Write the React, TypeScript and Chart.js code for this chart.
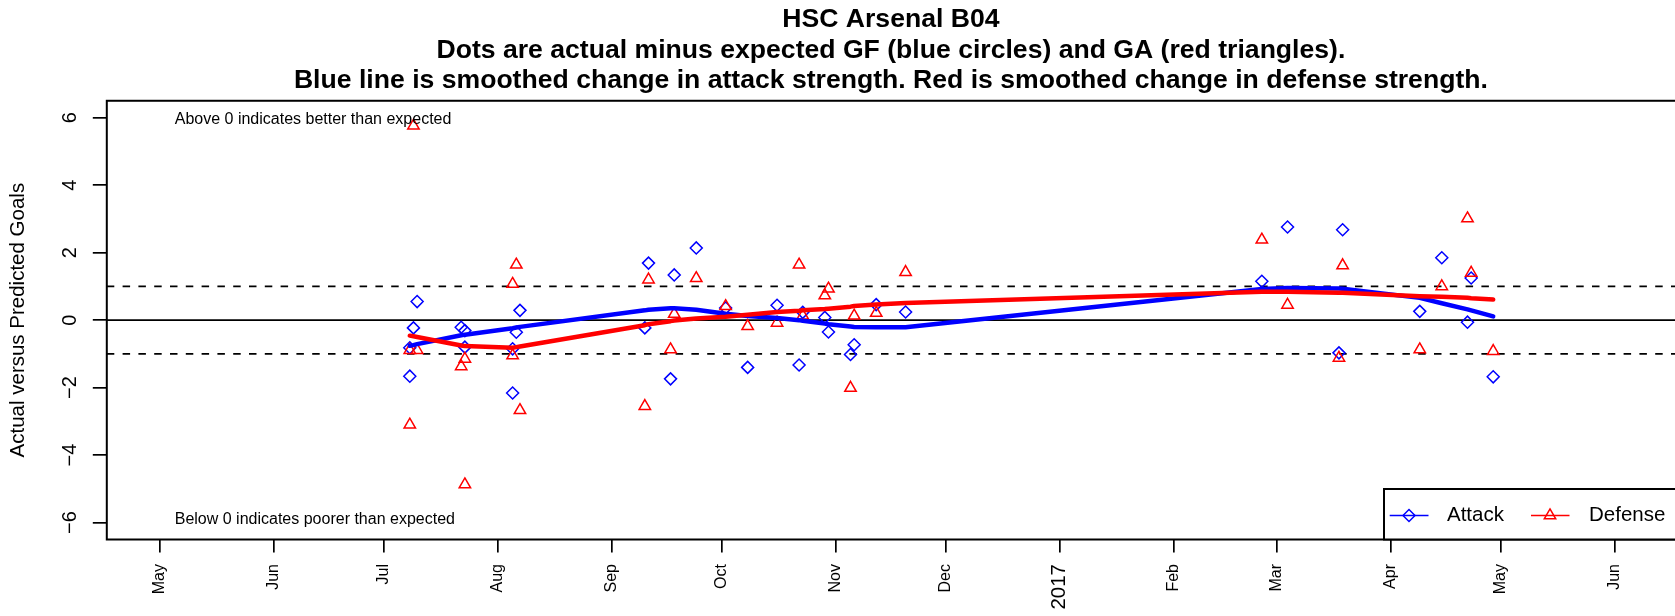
import { useEffect, useRef } from 'react';
import { Chart, registerables } from 'chart.js';

Chart.register(...registerables);

const FONT = '"Liberation Sans", Arial, Helvetica, sans-serif';

const TITLE_LINES = [
  'HSC Arsenal B04',
  'Dots are actual minus expected GF (blue circles) and GA (red triangles).',
  'Blue line is smoothed change in attack strength. Red is smoothed change in defense strength.',
];
const Y_TITLE = 'Actual versus Predicted Goals';

// one entry per match
const MATCH_DATES = [
  '2016-07-08', '2016-07-08', '2016-07-09', '2016-07-10', '2016-07-22', '2016-07-23',
  '2016-07-23', '2016-08-05', '2016-08-05', '2016-08-06', '2016-08-07', '2016-09-10',
  '2016-09-11', '2016-09-17', '2016-09-18', '2016-09-24', '2016-10-02', '2016-10-08',
  '2016-10-16', '2016-10-22', '2016-10-23', '2016-10-29', '2016-10-30', '2016-11-05',
  '2016-11-06', '2016-11-12', '2016-11-20', '2017-02-25', '2017-03-04', '2017-03-18',
  '2017-03-19', '2017-04-09', '2017-04-15', '2017-04-22', '2017-04-23', '2017-04-29',
];
const ATTACK_DIFF = [
  -0.82, -1.66, -0.23, 0.55, -0.21, -0.31,
  -0.80, -0.85, -2.16, -0.36, 0.29, -0.23,
  1.69, -1.74, 1.34, 2.14, 0.36, -1.40,
  0.44, -1.33, 0.23, 0.08, -0.35, -1.02,
  -0.73, 0.46, 0.24, 1.15, 2.76, -0.97,
  2.68, 0.26, 1.85, -0.06, 1.25, -1.68,
];
const DEFENSE_DIFF = [
  -0.89, -3.10, 5.76, -0.89, -1.37, -1.15,
  -4.87, 1.07, -1.05, 1.64, -2.67, -2.55,
  1.20, -0.87, 0.18, 1.24, 0.41, -0.18,
  -0.08, 1.64, 0.13, 0.73, 0.93, -2.01,
  0.13, 0.21, 1.42, 2.38, 0.45, -1.12,
  1.62, -0.87, 1.00, 3.01, 1.40, -0.92,
];

// smoothed strength changes, evaluated at the match dates
const SMOOTH_DATES = [
  '2016-07-08', '2016-07-09', '2016-07-10', '2016-07-22', '2016-07-23', '2016-08-05',
  '2016-08-06', '2016-08-07', '2016-09-10', '2016-09-11', '2016-09-17', '2016-09-18',
  '2016-09-24', '2016-10-02', '2016-10-08', '2016-10-16', '2016-10-22', '2016-10-23',
  '2016-10-29', '2016-10-30', '2016-11-05', '2016-11-06', '2016-11-12', '2016-11-20',
  '2017-02-25', '2017-03-04', '2017-03-18', '2017-03-19', '2017-04-09', '2017-04-15',
  '2017-04-22', '2017-04-23', '2017-04-29',
];
const ATTACK_SMOOTH = [
  -0.76, -0.74, -0.71, -0.45, -0.43, -0.24,
  -0.22, -0.20, 0.29, 0.31, 0.35, 0.35,
  0.31, 0.19, 0.12, 0.06, 0.00, -0.02,
  -0.10, -0.12, -0.19, -0.20, -0.21, -0.21,
  0.92, 0.95, 0.94, 0.93, 0.66, 0.50,
  0.32, 0.29, 0.11,
];
const DEFENSE_SMOOTH = [
  -0.46, -0.48, -0.50, -0.75, -0.77, -0.82,
  -0.80, -0.78, -0.15, -0.12, -0.03, -0.01,
  0.05, 0.10, 0.16, 0.24, 0.28, 0.29,
  0.33, 0.34, 0.40, 0.42, 0.46, 0.51,
  0.84, 0.84, 0.81, 0.81, 0.71, 0.69,
  0.66, 0.65, 0.61,
];

const X_TICK_DATES = [
  '2016-05-01', '2016-06-01', '2016-07-01', '2016-08-01', '2016-09-01', '2016-10-01', '2016-11-01',
  '2016-12-01', '2017-01-01', '2017-02-01', '2017-03-01', '2017-04-01', '2017-05-01', '2017-06-01',
];
const X_TICK_LABELS = ['May', 'Jun', 'Jul', 'Aug', 'Sep', 'Oct', 'Nov', 'Dec', '2017', 'Feb', 'Mar', 'Apr', 'May', 'Jun'];
const X_RANGE = ['2016-04-16T12:00:00Z', '2017-06-17T12:00:00Z'];
const Y_TICKS = [-6, -4, -2, 0, 2, 4, 6];
const Y_RANGE = [-6.5, 6.5];
const REF_LINES = [0, 1, -1];

const NOTE_TEXTS = ['Above 0 indicates better than expected', 'Below 0 indicates poorer than expected'];
const NOTE_X = '2016-05-05';
const NOTE_Y = [5.95, -5.9];
const LEGEND_LABELS = ['Attack', 'Defense'];

const BLUE = '#0000FF';
const RED = '#FF0000';
const DIAMOND_R = 6;
const TRIANGLE_R = 6.6;

const toMs = (d: string) => Date.parse(d);
const pts = (dates: string[], vals: number[]) => dates.map((d, i) => ({ x: toMs(d), y: vals[i] }));

function drawDiamond(ctx: CanvasRenderingContext2D, x: number, y: number, r: number) {
  ctx.beginPath();
  ctx.moveTo(x - r, y);
  ctx.lineTo(x, y - r);
  ctx.lineTo(x + r, y);
  ctx.lineTo(x, y + r);
  ctx.closePath();
  ctx.stroke();
}
function drawTriangle(ctx: CanvasRenderingContext2D, x: number, y: number, r: number) {
  ctx.beginPath();
  ctx.moveTo(x, y - r);
  ctx.lineTo(x + r * 0.866, y + r / 2);
  ctx.lineTo(x - r * 0.866, y + r / 2);
  ctx.closePath();
  ctx.stroke();
}

const framePlugin = {
  id: 'frame',
  beforeDatasetsDraw(chart: any) {
    const { ctx, chartArea: a, scales } = chart;
    const y = scales.y;
    ctx.save();
    ctx.strokeStyle = '#000';
    ctx.lineWidth = 1.7;
    REF_LINES.forEach((v) => {
      const py = y.getPixelForValue(v);
      ctx.setLineDash(v === 0 ? [] : [7.5, 8.3]);
      ctx.beginPath();
      ctx.moveTo(a.left, py);
      ctx.lineTo(a.right, py);
      ctx.stroke();
    });
    ctx.restore();
  },
  afterDraw(chart: any) {
    const { ctx, chartArea: a, scales } = chart;
    const x = scales.x;
    const y = scales.y;
    ctx.save();
    ctx.strokeStyle = '#000';
    ctx.lineWidth = 2;
    ctx.strokeRect(a.left, a.top, a.right - a.left + 10, a.bottom - a.top);

    ctx.fillStyle = '#000';
    ctx.font = `16px ${FONT}`;
    ctx.textAlign = 'left';
    ctx.textBaseline = 'middle';
    NOTE_TEXTS.forEach((t, i) => {
      ctx.fillText(t, x.getPixelForValue(toMs(NOTE_X)), y.getPixelForValue(NOTE_Y[i]));
    });

    const lx = 1384;
    const ly = 489;
    const cy = 515.5;
    ctx.fillStyle = '#fff';
    ctx.fillRect(lx, ly, 400, a.bottom - ly);
    ctx.strokeStyle = '#000';
    ctx.lineWidth = 2;
    ctx.strokeRect(lx, ly, 400, a.bottom - ly);

    ctx.lineWidth = 1.5;
    ctx.strokeStyle = BLUE;
    ctx.beginPath();
    ctx.moveTo(1389.7, cy);
    ctx.lineTo(1428.5, cy);
    ctx.stroke();
    drawDiamond(ctx, 1409, cy, DIAMOND_R);

    ctx.strokeStyle = RED;
    ctx.beginPath();
    ctx.moveTo(1531, cy);
    ctx.lineTo(1569.5, cy);
    ctx.stroke();
    drawTriangle(ctx, 1550, cy, TRIANGLE_R);

    ctx.fillStyle = '#000';
    ctx.font = `20.5px ${FONT}`;
    ctx.textAlign = 'left';
    ctx.textBaseline = 'middle';
    ctx.fillText(LEGEND_LABELS[0], 1447, cy);
    ctx.fillText(LEGEND_LABELS[1], 1589, cy);
    ctx.restore();
  },
};

export default function App() {
  const ref = useRef<HTMLCanvasElement>(null);

  useEffect(() => {
    const canvas = ref.current;
    if (!canvas) return;
    const chart = new Chart(canvas, {
      type: 'scatter',
      data: {
        datasets: [
          {
            label: 'Attack',
            data: pts(MATCH_DATES, ATTACK_DIFF),
            showLine: false,
            pointStyle: 'rectRot',
            pointRadius: DIAMOND_R,
            pointBorderColor: BLUE,
            pointBackgroundColor: 'rgba(0,0,0,0)',
            pointBorderWidth: 1.5,
            order: 3,
          } as any,
          {
            label: 'Defense',
            data: pts(MATCH_DATES, DEFENSE_DIFF),
            showLine: false,
            pointStyle: 'triangle',
            pointRadius: TRIANGLE_R,
            pointBorderColor: RED,
            pointBackgroundColor: 'rgba(0,0,0,0)',
            pointBorderWidth: 1.5,
            order: 2,
          } as any,
          {
            type: 'line',
            label: 'Attack smooth',
            data: pts(SMOOTH_DATES, ATTACK_SMOOTH),
            borderColor: BLUE,
            borderWidth: 4.5,
            pointRadius: 0,
            fill: false,
            tension: 0,
            borderCapStyle: 'round',
            borderJoinStyle: 'round',
            order: 1,
          } as any,
          {
            type: 'line',
            label: 'Defense smooth',
            data: pts(SMOOTH_DATES, DEFENSE_SMOOTH),
            borderColor: RED,
            borderWidth: 4.5,
            pointRadius: 0,
            fill: false,
            tension: 0,
            borderCapStyle: 'round',
            borderJoinStyle: 'round',
            order: 0,
          } as any,
        ],
      },
      options: {
        responsive: false,
        animation: false,
        devicePixelRatio: 1,
        events: [],
        layout: { padding: 0, autoPadding: false },
        plugins: {
          legend: { display: false },
          tooltip: { enabled: false },
          title: {
            display: true,
            text: TITLE_LINES,
            fullSize: false,
            color: '#000',
            font: { family: FONT, size: 26.6, weight: 'bold', lineHeight: 1.15 },
            padding: { top: 4.5, bottom: 4.5 },
          },
        },
        scales: {
          x: {
            type: 'linear',
            position: 'bottom',
            min: toMs(X_RANGE[0]),
            max: toMs(X_RANGE[1]),
            afterBuildTicks: (s: any) => {
              s.ticks = X_TICK_DATES.map((d) => ({ value: toMs(d) }));
            },
            afterFit: (s: any) => {
              s.height = 76.5;
              s.paddingLeft = 0;
              s.paddingRight = 0;
            },
            grid: { display: true, drawOnChartArea: false, drawTicks: true, tickLength: 13, color: '#000', lineWidth: 1.7 },
            border: { display: false },
            ticks: {
              autoSkip: false,
              minRotation: 90,
              maxRotation: 90,
              padding: 11.5,
              color: '#000',
              font: (c: any) => ({ family: FONT, size: X_TICK_LABELS[c.index] === '2017' ? 20.5 : 16 }),
              callback: (_v: any, i: number) => X_TICK_LABELS[i],
            },
          },
          y: {
            type: 'linear',
            position: 'left',
            min: Y_RANGE[0],
            max: Y_RANGE[1],
            afterBuildTicks: (s: any) => {
              s.ticks = Y_TICKS.map((v) => ({ value: v }));
            },
            afterFit: (s: any) => {
              s.width = 106.8;
            },
            grid: { display: true, drawOnChartArea: false, drawTicks: true, tickLength: 14, color: '#000', lineWidth: 1.7 },
            border: { display: false },
            ticks: {
              autoSkip: false,
              minRotation: 90,
              maxRotation: 90,
              crossAlign: 'center',
              padding: 11.4,
              color: '#000',
              font: { family: FONT, size: 20 },
              callback: (v: any) => (Number(v) < 0 ? '\u2212' + Math.abs(Number(v)) : String(v)),
            },
            title: {
              display: true,
              text: Y_TITLE,
              color: '#000',
              font: { family: FONT, size: 20.5 },
              padding: { top: 5.7, bottom: 0 },
            },
          },
        },
      } as any,
      plugins: [framePlugin],
    });
    return () => chart.destroy();
  }, []);

  return (
    <div style={{ position: 'absolute', left: 0, top: 0, width: 1675, height: 616, background: '#fff', overflow: 'hidden' }}>
      <canvas ref={ref} width={1675} height={616} style={{ display: 'block', width: 1675, height: 616 }} />
    </div>
  );
}
